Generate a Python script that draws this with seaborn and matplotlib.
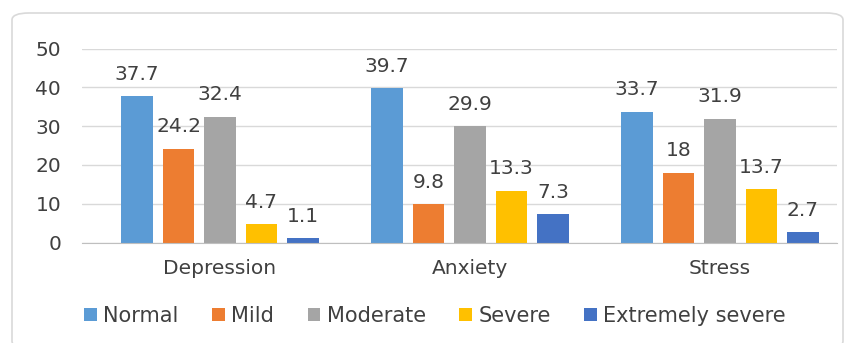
import matplotlib
matplotlib.use("Agg")
import matplotlib.pyplot as plt
import seaborn as sns
import pandas as pd
from matplotlib.patches import FancyBboxPatch

categories = ["Depression", "Anxiety", "Stress"]
levels = ["Normal", "Mild", "Moderate", "Severe", "Extremely severe"]
normal = [37.7, 39.7, 33.7]
mild = [24.2, 9.8, 18]
moderate = [32.4, 29.9, 31.9]
severe = [4.7, 13.3, 13.7]
extremely_severe = [1.1, 7.3, 2.7]
colors = ["#5B9BD5", "#ED7D31", "#A5A5A5", "#FFC000", "#4472C4"]

series = [normal, mild, moderate, severe, extremely_severe]
rows = []
for lvl, vals in zip(levels, series):
    for c, v in zip(categories, vals):
        rows.append({"Category": c, "Level": lvl, "Value": v})
df = pd.DataFrame(rows)

sns.set_style("white")
plt.rcParams["font.family"] = ["DejaVu Sans"]
text_color = "#404040"
FS = 14.5

fig = plt.figure(figsize=(8.53, 3.43), dpi=100)
ax = fig.add_axes([82 / 853, 1 - 242.5 / 343, 755 / 853, 194 / 343])

sns.barplot(data=df, x="Category", y="Value", hue="Level", order=categories,
            hue_order=levels, palette=colors, width=0.83, gap=0.25,
            saturation=1, ax=ax, legend=True, edgecolor="none", linewidth=0)

for cont in ax.containers:
    ax.bar_label(cont, labels=[f"{v:g}" for v in cont.datavalues],
                 padding=9, fontsize=FS, color=text_color)

ax.set_ylim(0, 50)
ax.set_yticks([0, 10, 20, 30, 40, 50])
ax.set_xlim(-0.552, 2.468)
ax.yaxis.grid(True, color="#D9D9D9", linewidth=1)
ax.set_axisbelow(True)
for s in ["top", "right", "left"]:
    ax.spines[s].set_visible(False)
ax.spines["bottom"].set_color("#BFBFBF")
ax.set_xlabel("")
ax.set_ylabel("")
ax.tick_params(axis="both", length=0, labelsize=FS, colors=text_color)
ax.tick_params(axis="x", pad=12)
ax.tick_params(axis="y", pad=15)

handles, labels = ax.get_legend_handles_labels()
ax.get_legend().remove()
fig.legend(handles, labels, loc="center", bbox_to_anchor=(0.51, 1 - 316 / 343), ncol=5,
           frameon=False, fontsize=15, handlelength=0.62, handleheight=0.62,
           handletextpad=0.3, columnspacing=1.6, labelcolor=text_color)

border = FancyBboxPatch((12 / 853, -5 / 343), 831 / 853, 335 / 343,
                        boxstyle="round,pad=0,rounding_size=0.02",
                        transform=fig.transFigure, facecolor="none",
                        edgecolor="#D9D9D9", linewidth=1.2)
fig.patches.append(border)

fig.savefig("out.png", dpi=100)
